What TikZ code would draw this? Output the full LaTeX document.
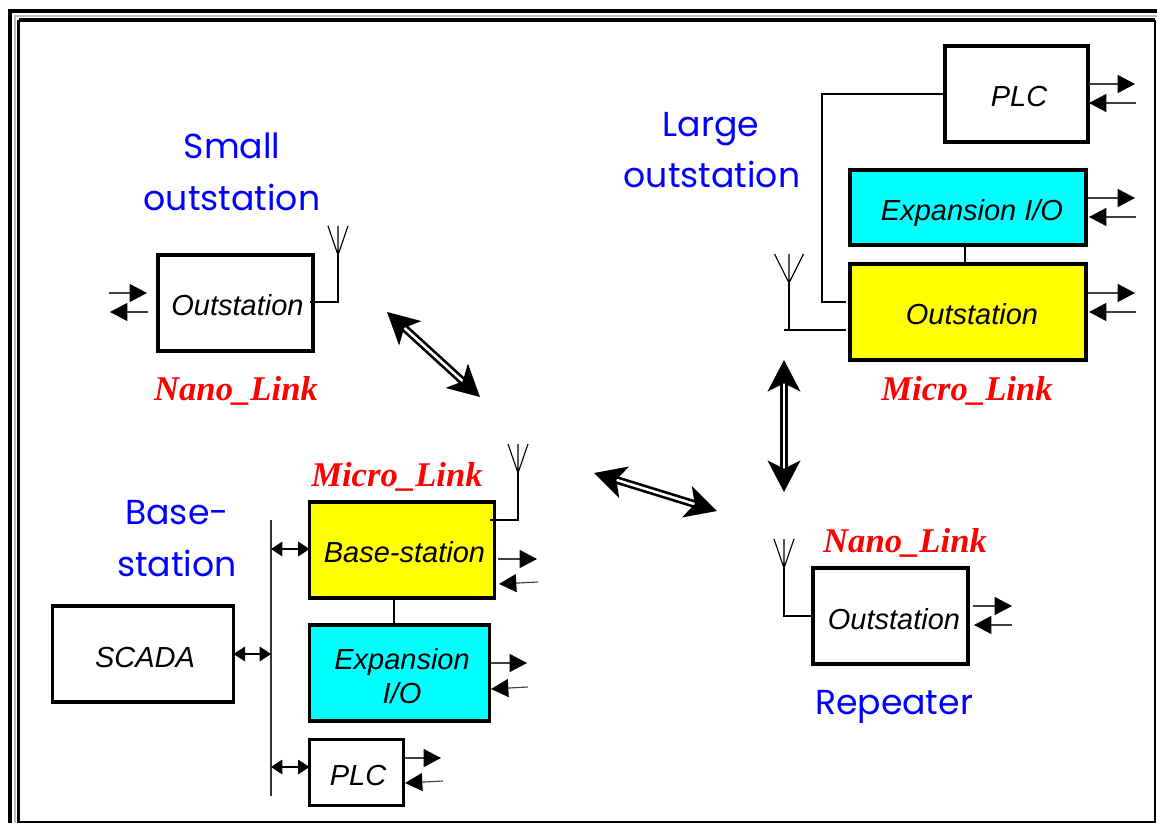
\documentclass[tikz,border=0pt]{standalone}
\usepackage{fontspec}
\usetikzlibrary{arrows.meta,calc}
\setmainfont{Liberation Sans}
\newfontfamily\bluefont{Poppins}
\newfontfamily\redfont{Liberation Serif}
\definecolor{labelblue}{RGB}{0,0,255}
\definecolor{linkred}{RGB}{255,0,0}
\definecolor{boxyellow}{RGB}{255,255,0}
\definecolor{boxcyan}{RGB}{0,255,255}
\tikzset{
  box/.style={draw=black,line width=2.6pt,inner sep=0pt,outer sep=0pt,rectangle},
  boxtext/.style={anchor=base,inner sep=0pt,font=\fontsize{21.75}{26}\selectfont\itshape},
  sitelabel/.style={anchor=base,inner sep=0pt,text=labelblue,font=\fontsize{26}{30}\bluefont},
  linklabel/.style={anchor=base,inner sep=0pt,text=linkred,font=\fontsize{26}{30}\redfont\bfseries\itshape},
  wire/.style={draw=black,line width=0.85pt,line join=miter},
  signal/.style={draw=black!75,line width=0.85pt,-{Triangle[length=13pt,width=13.5pt,color=black,fill=black]}},
  busarrow/.style={draw=black,line width=0.85pt,{Triangle[length=8.5pt,width=11pt]}-{Triangle[length=8.5pt,width=11pt]}},
  radio/.style={draw=black,line width=2pt,double=white,double distance=1.9pt,
     {Stealth[length=23.5pt,width=24.5pt,inset=6pt]}-{Stealth[length=23.5pt,width=24.5pt,inset=6pt]}},
}
% id, start/end of outgoing arrow, start/end of incoming arrow
\newcommand{\iopair}[5]{%
  \coordinate (#1oa) at (#2); \coordinate (#1ob) at (#3);
  \coordinate (#1ia) at (#4); \coordinate (#1ib) at (#5);
  \draw[signal] (#1oa) -- (#1ob);
  \draw[signal] (#1ia) -- (#1ib);
}
% id, junction, half span of the arms
\newcommand{\aerial}[3]{%
  \coordinate (#1j) at (#2);
  \coordinate (#1t) at ($(#1j)+(0,-29)$);
  \coordinate (#1l) at ($(#1j)+(-#3,-29)$);
  \coordinate (#1r) at ($(#1j)+(#3,-29)$);
  \draw[wire] (#1j) -- (#1t) (#1l) -- (#1j) -- (#1r);
}
\begin{document}
\begin{tikzpicture}[x=0.75pt,y=-0.75pt]
\useasboundingbox (0,0) rectangle (1157,823);
\clip (0,0) rectangle (1157,823);
\fill[white] (0,0) rectangle (1157,823);
% frame
\draw[black,line width=3pt] (10,11) rectangle (1190,860);
\draw[black!25,line width=0.8pt] (15,16) rectangle (1180,860);
\draw[black,line width=2.8pt] (18.5,20) -- (1155,20);
\draw[black,line width=2.8pt] (18.5,20) -- (18.5,823);
\draw[black,line width=1pt] (18.5,822) -- (1155,822) -- (1155,20);

% boxes
\node[box,minimum width=116.5pt,minimum height=72.2pt] (smallout) at (235.5,303) {};
\node[box,minimum width=107pt,minimum height=72.2pt] (plcr) at (1016.5,94) {};
\node[box,fill=boxcyan,minimum width=176.8pt,minimum height=56pt] (expr) at (968,207.5) {};
\node[box,fill=boxyellow,minimum width=176.8pt,minimum height=72.2pt] (outr) at (968,312) {};
\node[box,fill=boxyellow,minimum width=138.8pt,minimum height=72.2pt] (basest) at (402,550) {};
\node[box,fill=boxcyan,minimum width=135pt,minimum height=72.2pt] (expl) at (399.5,673) {};
\node[box,minimum width=70.7pt,minimum height=49.8pt] (plcl) at (356.5,772.5) {};
\node[box,minimum width=136pt,minimum height=72.2pt] (scada) at (143,654) {};
\node[box,minimum width=116.5pt,minimum height=72.2pt] (rep) at (890.5,616) {};

% box texts
\node[boxtext] (t1) at (237.5,315.5) {Outstation};
\node[boxtext] (t2) at (1019,107) {PLC};
\node[boxtext] (t3) at (972,221) {Expansion I/O};
\node[boxtext] (t4) at (972,325) {Outstation};
\node[boxtext] (t5) at (404.5,562) {Base-station};
\node[boxtext] (t6) at (402,669) {Expansion};
\node[boxtext] (t7) at (402,703) {I/O};
\node[boxtext] (t8) at (358,785.5) {PLC};
\node[boxtext] (t9) at (145,667) {SCADA};
\node[boxtext] (t10) at (894,629) {Outstation};

% blue labels
\node[sitelabel] (l1) at (232,159) {Small};
\node[sitelabel] (l2) at (232,211) {outstation};
\node[sitelabel] (l3) at (711,137) {Large};
\node[sitelabel] (l4) at (712,188) {outstation};
\node[sitelabel] (l5) at (177,524) {Base-};
\node[sitelabel] (l6) at (177,576) {station};
\node[sitelabel] (l7) at (894,714) {Repeater};

% red labels
\node[linklabel] (r1) at (236,401) {Nano\_Link};
\node[linklabel] (r2) at (967,401) {Micro\_Link};
\node[linklabel] (r3) at (397,487) {Micro\_Link};
\node[linklabel] (r4) at (905,552) {Nano\_Link};

% aerials
\aerial{as}{338,255}{10}
\aerial{al}{789,283}{14.5}
\aerial{ab}{518,473}{10}
\aerial{ar}{784,568}{10}
\coordinate (asf) at (310,302); \coordinate (ase) at (338,302);
\draw[wire] (asf) -- (ase) -- (asj);
\coordinate (alf) at (846,330); \coordinate (ale) at (784,330); \coordinate (alc) at (789,330);
\draw[wire] (alf) -- (ale) (alc) -- (alj);
\coordinate (abf) at (490,520); \coordinate (abe) at (518,520);
\draw[wire] (abf) -- (abe) -- (abj);
\coordinate (are) at (784,616);
\draw[wire] (rep.west) -- (are) -- (arj);

% station wiring
\coordinate (pa) at (822,94); \coordinate (pb) at (822,302); \coordinate (pc) at (846,302);
\draw[wire] (plcr.west) -- (pa) -- (pb) -- (pc);
\coordinate (lnkr) at (965,250);
\draw[wire] (lnkr |- expr.south) -- (lnkr |- outr.north);
\coordinate (lnkl) at (394,610);
\draw[wire] (lnkl |- basest.south) -- (lnkl |- expl.north);

% bus
\coordinate (bust) at (271,520); \coordinate (busb) at (271,796);
\draw[wire,draw=black!80] (bust) -- (busb);
\coordinate (bb) at (271,549); \coordinate (bs) at (271,654); \coordinate (bp) at (271,767);
\draw[busarrow] (bb) -- (bb -| basest.west);
\draw[busarrow] (scada.east) -- (bs);
\draw[busarrow] (bp) -- (bp -| plcl.west);

% I/O arrows
\iopair{a}{109,293}{147,293}{148,312}{110,312}
\iopair{b}{1089,84}{1135,84}{1136,103}{1089,103}
\iopair{c}{1088,198}{1135,198}{1136,217}{1089,217}
\iopair{d}{1088,293}{1135,293}{1136,312}{1089,312}
\iopair{e}{498,559}{537,559}{538,582}{499,584}
\iopair{f}{491,663}{527,663}{528,687}{491,689}
\iopair{g}{405,758}{441,758}{443,781}{405,783}
\iopair{h}{973,606}{1012,606}{1012,625}{974,625}

% radio links
\coordinate (ra1) at (387,312); \coordinate (ra2) at (480,397);
\coordinate (rb1) at (594,473); \coordinate (rb2) at (717,511);
\coordinate (rc1) at (784,360); \coordinate (rc2) at (784,492);
\draw[radio] (ra1) -- (ra2);
\draw[radio] (rb1) -- (rb2);
\draw[radio] (rc1) -- (rc2);
\end{tikzpicture}
\end{document}
